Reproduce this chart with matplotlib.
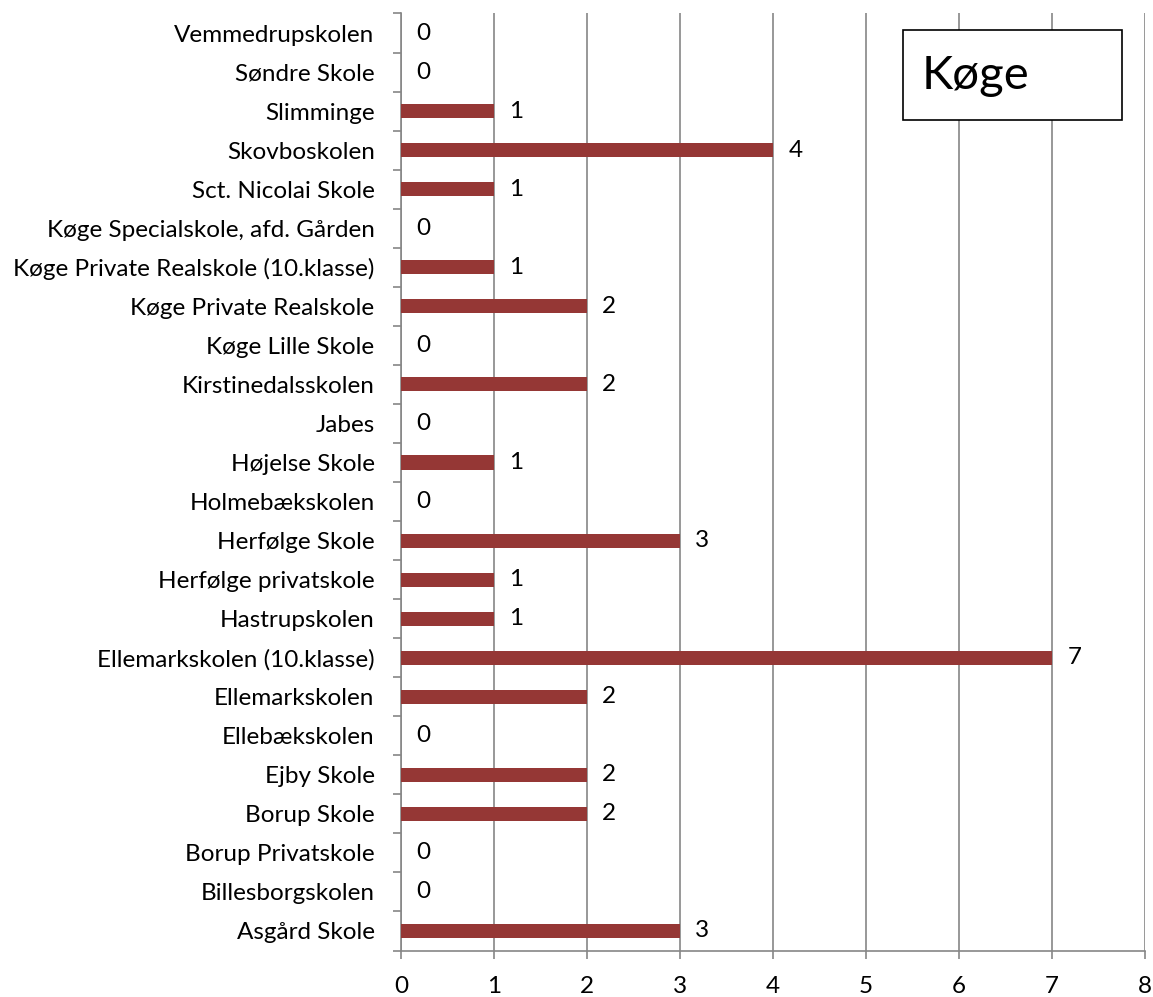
import matplotlib
matplotlib.use("Agg")
import matplotlib.pyplot as plt
from matplotlib.patches import Rectangle
import numpy as np

schools = [
    "Asgård Skole", "Billesborgskolen", "Borup Privatskole", "Borup Skole",
    "Ejby Skole", "Ellebækskolen", "Ellemarkskolen", "Ellemarkskolen (10.klasse)",
    "Hastrupskolen", "Herfølge privatskole", "Herfølge Skole", "Holmebækskolen",
    "Højelse Skole", "Jabes", "Kirstinedalsskolen", "Køge Lille Skole",
    "Køge Private Realskole", "Køge Private Realskole (10.klasse)",
    "Køge Specialskole, afd. Gården", "Sct. Nicolai Skole", "Skovboskolen",
    "Slimminge", "Søndre Skole", "Vemmedrupskolen",
]
values = [3, 0, 0, 2, 2, 0, 2, 7, 1, 1, 3, 0, 1, 0, 2, 0, 2, 1, 0, 1, 4, 1, 0, 0]
xticks = [0, 1, 2, 3, 4, 5, 6, 7, 8]
title = "Køge"

plt.rcParams['font.family'] = ['Lato', 'DejaVu Sans']
FS = 17.5
W, H = 1153, 997
fig = plt.figure(figsize=(W / 100, H / 100), dpi=100)
ax = fig.add_axes([401 / W, 1 - 950.5 / H, (1145 - 401) / W, (950.5 - 13.5) / H])

y = np.arange(len(schools))
ax.barh(y, values, height=0.36, color="#953735", zorder=3)
for yi, v in zip(y, values):
    ax.annotate(str(v), (v, yi), xytext=(11, 0), textcoords="offset points",
                ha="left", va="center", fontsize=FS, color="black")

ax.set_xlim(0, 8)
ax.set_ylim(-0.5, len(schools) - 0.5)
ax.set_xticks(xticks)
ax.set_xticklabels([str(t) for t in xticks], fontsize=FS)
ax.set_yticks(y)
ax.set_yticklabels(schools, fontsize=FS)
ax.tick_params(axis="y", which="major", length=0, pad=19)
ax.set_yticks(np.arange(-0.5, len(schools), 1), minor=True)
ax.tick_params(axis="y", which="minor", length=6, color="#868686", width=1.2)
ax.tick_params(axis="x", length=6, color="#868686", width=1.2, pad=12)
ax.grid(axis="x", color="#868686", linewidth=1.2, zorder=0)
for s in ["top", "right"]:
    ax.spines[s].set_visible(False)
for s in ["left", "bottom"]:
    ax.spines[s].set_color("#868686")
    ax.spines[s].set_linewidth(1.2)
ax.set_axisbelow(True)

fig.patches.append(Rectangle((903 / W, 1 - 120 / H), 219 / W, 90 / H,
                             transform=fig.transFigure, facecolor="white",
                             edgecolor="black", linewidth=1.2, zorder=5))
fig.text(922 / W, 1 - 76 / H, title, fontsize=34, va="center", ha="left", zorder=6)

fig.savefig("out.png", dpi=100)
